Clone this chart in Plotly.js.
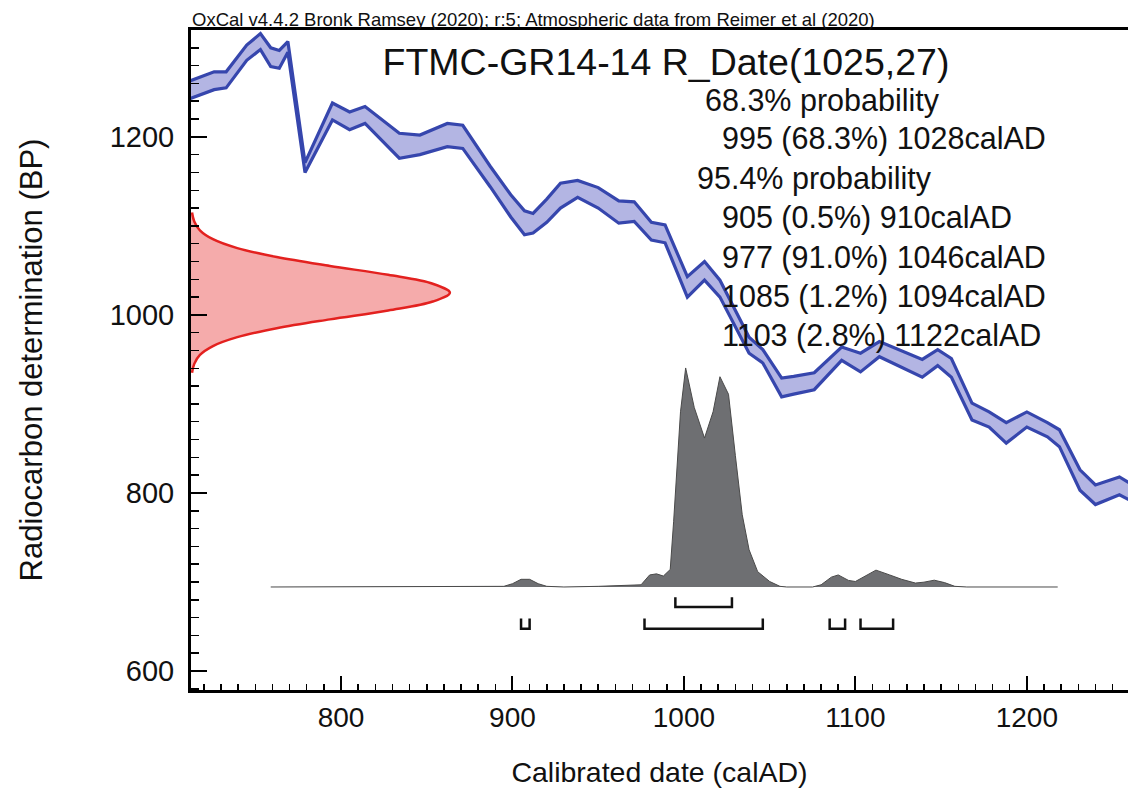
<!DOCTYPE html>
<html>
<head>
<meta charset="utf-8">
<script src="https://cdn.plot.ly/plotly-3.0.1.min.js"></script>
<style>html,body{margin:0;padding:0;background:#fff;}#chart{width:1128px;height:788px;}</style>
</head>
<body>
<div id="chart"></div>
<script>
// ---- Calibration curve (IntCal20 band) ----
const calYears   = [712, 726, 733, 745, 753, 759, 764, 769, 779, 795, 805, 814, 834, 846, 862, 871, 887, 899, 907, 912, 920, 928, 938, 950, 962, 971, 981, 989, 1002, 1012, 1021, 1038, 1046, 1057, 1064, 1076, 1092, 1103, 1114, 1139, 1148, 1156, 1168, 1178, 1188, 1200, 1212, 1219, 1231, 1240, 1254, 1260];
const calUpperBP = [1263, 1273, 1273, 1303, 1316, 1300, 1297, 1307, 1171, 1238, 1228, 1234, 1204, 1202, 1215, 1213, 1167, 1135, 1117, 1114, 1130, 1148, 1151, 1143, 1128, 1127, 1104, 1101, 1043, 1060, 1039, 975, 961, 929, 931, 935, 964, 957, 970, 950, 961, 951, 901, 891, 879, 891, 879, 871, 826, 809, 818, 811];
const calLowerBP = [1243, 1253, 1255, 1286, 1298, 1279, 1277, 1295, 1160, 1219, 1208, 1215, 1176, 1180, 1189, 1187, 1144, 1110, 1090, 1092, 1104, 1120, 1132, 1120, 1103, 1105, 1084, 1081, 1020, 1039, 1020, 957, 946, 908, 911, 916, 949, 936, 953, 930, 943, 930, 882, 874, 856, 874, 863, 852, 803, 787, 798, 792];

// ---- Radiocarbon date R_Date(1025,27): density drawn on the BP axis ----
const dateBP      = [935, 945, 955, 965, 975, 985, 995, 1005, 1015, 1025, 1035, 1045, 1055, 1065, 1075, 1085, 1095, 1105, 1115];
const dateDensity = [0.6, 1.9, 5.2, 12.8, 27, 50, 81, 115, 141, 151, 141, 115, 81, 50, 27, 12.8, 5.2, 1.9, 0.6];

// ---- Calibrated probability distribution (relative) ----
const probYears  = [759, 880, 895, 900, 905, 910, 915, 920, 930, 950, 965, 975, 980, 984, 988, 992, 994, 996, 998, 1001, 1006, 1012, 1017, 1021, 1026, 1030, 1034, 1038, 1043, 1050, 1056, 1060, 1075, 1080, 1086, 1090, 1096, 1100, 1106, 1112, 1120, 1127, 1135, 1140, 1146, 1152, 1158, 1165, 1218];
const probValues = [0, 0, 0.003, 0.015, 0.035, 0.035, 0.015, 0.003, 0, 0.003, 0.006, 0.01, 0.055, 0.06, 0.05, 0.08, 0.3, 0.55, 0.8, 1.0, 0.82, 0.68, 0.8, 0.96, 0.88, 0.6, 0.33, 0.17, 0.07, 0.025, 0.003, 0, 0, 0.01, 0.045, 0.055, 0.03, 0.025, 0.05, 0.077, 0.055, 0.035, 0.018, 0.022, 0.031, 0.02, 0.003, 0, 0];

// ---- Calibrated ranges ----
const range68 = [[995, 1028]];
const range95 = [[905, 910], [977, 1046], [1085, 1094], [1103, 1122]];

// ---- Texts ----
const topNote = "OxCal v4.4.2 Bronk Ramsey (2020); r:5; Atmospheric data from Reimer et al (2020)";
const chartTitle = "FTMC-GR14-14 R_Date(1025,27)";
const header68 = "68.3% probability";
const lines68 = ["995 (68.3%) 1028calAD"];
const header95 = "95.4% probability";
const lines95 = ["905 (0.5%) 910calAD", "977 (91.0%) 1046calAD", "1085 (1.2%) 1094calAD", "1103 (2.8%) 1122calAD"];

// ---------------- layout geometry ----------------
const W = 1128, H = 788;
const M = {l: 191, r: 0, t: 30, b: 98};
const plotW = W - M.l - M.r, plotH = H - M.t - M.b;
const px = x => (x - M.l) / plotW;      // pixel -> paper x
const py = y => (H - M.b - y) / plotH;  // pixel -> paper y
const FONT = "Liberation Sans, Arial, Helvetica, sans-serif";

function brackets(ranges, top, bottom) {
  const xs = [], ys = [];
  ranges.forEach(r => {
    xs.push(r[0], r[0], r[1], r[1], null);
    ys.push(top, bottom, bottom, top, null);
  });
  return {x: xs, y: ys};
}
const b68 = brackets(range68, 683, 672);
const b95 = brackets(range95, 659, 647.5);

const traces = [
  {x: calYears, y: calLowerBP, type: 'scatter', mode: 'lines',
   line: {color: '#3646ad', width: 3.2}, hoverinfo: 'skip', showlegend: false},
  {x: calYears, y: calUpperBP, type: 'scatter', mode: 'lines', fill: 'tonexty',
   fillcolor: '#b3b5e3', line: {color: '#3646ad', width: 3.2}, hoverinfo: 'skip', showlegend: false},
  {x: probYears, y: probValues, xaxis: 'x', yaxis: 'y2', type: 'scatter', mode: 'lines',
   fill: 'tozeroy', fillcolor: '#6e6f72', line: {color: '#4a4a4a', width: 1}, showlegend: false},
  {x: dateDensity, y: dateBP, xaxis: 'x2', yaxis: 'y', type: 'scatter', mode: 'lines',
   fill: 'tozerox', fillcolor: '#f5abab', line: {color: '#e3211f', width: 2.5, shape: 'spline', smoothing: 1},
   showlegend: false},
  {x: b68.x, y: b68.y, type: 'scatter', mode: 'lines', line: {color: '#111', width: 2.5},
   connectgaps: false, showlegend: false},
  {x: b95.x, y: b95.y, type: 'scatter', mode: 'lines', line: {color: '#111', width: 2.5},
   connectgaps: false, showlegend: false}
];

const annotations = [
  {text: topNote, xref: 'paper', yref: 'paper', x: px(190), y: py(19), xanchor: 'left', yanchor: 'middle',
   showarrow: false, font: {family: FONT, size: 18.5, color: '#111'}},
  {text: header68, xref: 'paper', yref: 'paper', x: px(703), y: py(100), xanchor: 'left', yanchor: 'middle',
   showarrow: false, font: {family: FONT, size: 30.5, color: '#111'}}
];
lines68.forEach((t, i) => annotations.push({text: t, xref: 'paper', yref: 'paper', x: px(720), y: py(138 + i * 39),
  xanchor: 'left', yanchor: 'middle', showarrow: false, font: {family: FONT, size: 30.5, color: '#111'}}));
annotations.push({text: header95, xref: 'paper', yref: 'paper', x: px(695), y: py(178), xanchor: 'left', yanchor: 'middle',
  showarrow: false, font: {family: FONT, size: 30.5, color: '#111'}});
lines95.forEach((t, i) => annotations.push({text: t, xref: 'paper', yref: 'paper', x: px(720), y: py(218 + i * 39),
  xanchor: 'left', yanchor: 'middle', showarrow: false, font: {family: FONT, size: 30.5, color: '#111'}}));

const layout = {
  width: W, height: H, margin: M,
  paper_bgcolor: '#fff', plot_bgcolor: '#fff',
  showlegend: false,
  title: {text: chartTitle, x: 666 / W, xanchor: 'center', xref: 'container', y: 1 - 62 / H, yanchor: 'middle', yref: 'container',
          font: {family: FONT, size: 37.5, color: '#111'}},
  xaxis: {
    range: [712.5, 1259], showline: true, linecolor: '#000', linewidth: 3, mirror: true,
    ticks: 'inside', ticklen: 14, tickwidth: 2, tickcolor: '#000', tick0: 0, dtick: 100,
    minor: {ticks: 'inside', dtick: 10, tick0: 0, ticklen: 6, tickwidth: 1.5, tickcolor: '#000', showgrid: false},
    showgrid: false, zeroline: false, automargin: false, ticklabelstandoff: 0,
    tickfont: {family: FONT, size: 28, color: '#111'},
    title: {text: 'Calibrated date (calAD)', standoff: 34, font: {family: FONT, size: 28.5, color: '#111'}}
  },
  xaxis2: {overlaying: 'x', range: [0, 546.5], visible: false, fixedrange: true},
  yaxis: {
    range: [578.7, 1320], showline: true, linecolor: '#000', linewidth: 3,
    ticks: 'inside', ticklen: 16, tickwidth: 2, tickcolor: '#000', tick0: 0, dtick: 200,
    minor: {ticks: 'inside', dtick: 20, tick0: 0, ticklen: 8, tickwidth: 1.5, tickcolor: '#000', showgrid: false},
    showgrid: false, zeroline: false, automargin: false, ticklabelstandoff: 8,
    tickfont: {family: FONT, size: 29, color: '#111'},
    title: {text: 'Radiocarbon determination (BP)', standoff: 58, font: {family: FONT, size: 31, color: '#111'}}
  },
  yaxis2: {overlaying: 'y', range: [-0.4703, 2.543], visible: false, fixedrange: true},
  annotations: annotations
};

Plotly.newPlot('chart', traces, layout, {displayModeBar: false, staticPlot: true});
</script>
</body>
</html>
